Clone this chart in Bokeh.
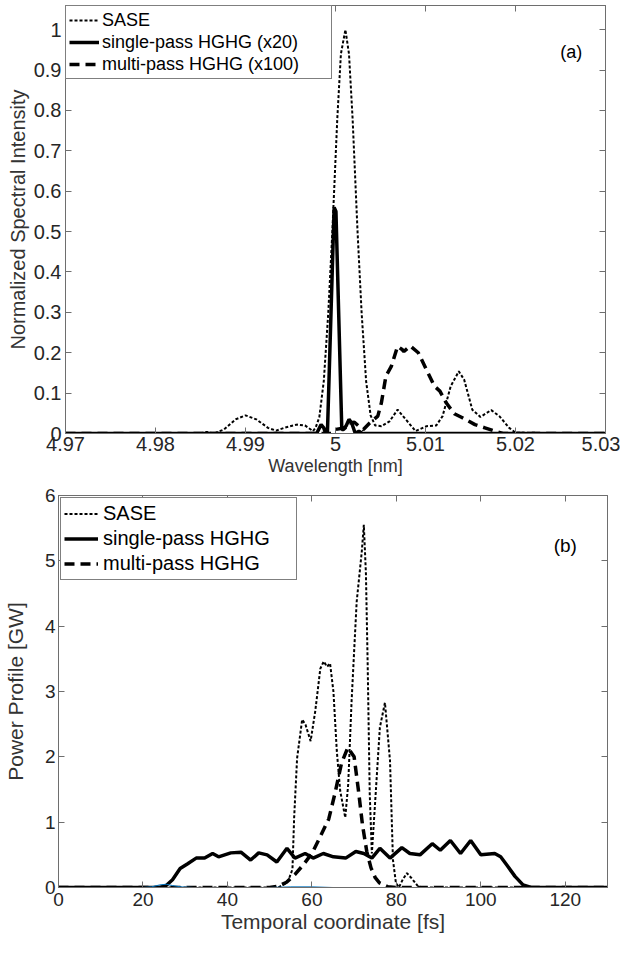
from bokeh.plotting import figure
from bokeh.models import (Range1d, LinearAxis, FixedTicker, Legend, LegendItem,
                          Label, CustomJSTickFormatter)
from bokeh.embed import file_html
from bokeh.resources import INLINE

FONT = "Liberation Sans"
AX = "#6e6e6e"
TXT = "#262626"

# ---------------- panel (a): spectra ----------------
sase_a_x = [4.970, 4.9850, 4.9857, 4.9865, 4.9876, 4.9889, 4.9900, 4.9912, 4.9925, 4.9934,
            4.9943, 4.9957, 4.9966, 4.9975, 4.9978, 4.9982, 4.9987, 4.9992, 4.99965, 5.0002,
            5.0006, 5.0011, 5.0015, 5.0019, 5.00245, 5.0029, 5.0034, 5.0039, 5.0044, 5.0051,
            5.0060, 5.0069, 5.0078, 5.0089, 5.0101, 5.0112, 5.0119, 5.0128, 5.0137, 5.0143,
            5.0152, 5.0161, 5.0173, 5.0182, 5.0193, 5.0200, 5.030]
sase_a_y = [0, 0, 0.004, 0, 0.01, 0.035, 0.045, 0.035, 0.014, 0.007,
            0.014, 0.022, 0.02, 0.006, 0.015, 0.04, 0.13, 0.3, 0.5, 0.78,
            0.94, 1.0, 0.94, 0.78, 0.5, 0.3, 0.13, 0.045, 0.02, 0.018,
            0.03, 0.059, 0.035, 0.006, 0.018, 0.02, 0.043, 0.117, 0.154, 0.133,
            0.059, 0.041, 0.058, 0.043, 0.014, 0.002, 0]

hg1_a_x = [4.970, 4.9979, 4.9984, 4.9987, 4.9989, 4.9991, 4.99985, 5.00005, 5.0007,
           5.0009, 5.0012, 5.0015, 5.0018, 5.0022, 5.0026, 5.0030, 5.030]
hg1_a_y = [0, 0, 0.022, 0.014, 0, 0, 0.56, 0.55, 0.01,
           0.01, 0.02, 0.035, 0.026, 0, 0.006, 0, 0]

hgm_a_x = [4.970, 4.9995, 5.0000, 5.0011, 5.0015, 5.0021, 5.0026, 5.0031, 5.0038, 5.0047,
           5.0051, 5.0056, 5.0062, 5.0069, 5.0074, 5.0076, 5.0083, 5.0092, 5.0101, 5.0110,
           5.0116, 5.0123, 5.0132, 5.0141, 5.0155, 5.0166, 5.0177, 5.0186, 5.030]
hgm_a_y = [0, 0, 0.01, 0.014, 0.026, 0.028, 0.018, 0.01, 0.026, 0.043,
           0.076, 0.142, 0.166, 0.216, 0.208, 0.203, 0.217, 0.2, 0.158, 0.117,
           0.105, 0.076, 0.049, 0.039, 0.022, 0.014, 0.006, 0, 0]

xt_a = [4.97, 4.98, 4.99, 5.0, 5.01, 5.02, 5.03]
xl_a = ["4.97", "4.98", "4.99", "5", "5.01", "5.02", "5.03"]
yt_a = [0, 0.1, 0.2, 0.3, 0.4, 0.5, 0.6, 0.7, 0.8, 0.9, 1.0]
yl_a = ["0", "0.1", "0.2", "0.3", "0.4", "0.5", "0.6", "0.7", "0.8", "0.9", "1"]
legend_a = ["SASE", "single-pass HGHG (x20)", "multi-pass HGHG (x100)"]

# ---------------- panel (b): power profiles ----------------
sase_b_t = [0, 52, 53.5, 54.5, 55.4, 55.8, 56.5, 57.7, 58.5, 59.7,
            60.8, 62.0, 62.8, 63.6, 64.3, 65.1, 65.9, 66.7, 67.9, 68.6,
            69.4, 70.6, 71.8, 72.3, 72.8, 73.2, 73.7, 74.2, 75.1, 76.1,
            77.3, 78.5, 79.2, 79.9, 80.6, 81.5, 82.5, 83.5, 85, 86, 130]
sase_b_p = [0, 0, 0.05, 0.12, 0.28, 1.07, 1.98, 2.57, 2.49, 2.24,
            2.70, 3.35, 3.46, 3.38, 3.43, 3.0, 2.09, 1.48, 1.07, 1.58,
            2.85, 4.37, 5.13, 5.55, 4.8, 3.46, 1.43, 0.52, 1.43, 2.45,
            2.83, 1.94, 0.42, 0.07, 0.0, 0.12, 0.22, 0.15, 0.03, 0, 0]

hg1_b_t = [0, 24, 25.5, 27, 28.8, 30.5, 32.6, 34.6, 36.5, 37.9,
           40.8, 43.2, 45.5, 47.4, 49.4, 51.7, 54.1, 56.0, 58.4, 60.3,
           62.7, 65.1, 68.0, 70.4, 72.3, 74.2, 76.1, 78.5, 81.3, 83.2,
           85.6, 88.5, 90.4, 92.8, 95.2, 97.6, 100.0, 103.3, 104.7, 106.2,
           108.1, 110.0, 111.9, 130]
hg1_b_p = [0, 0, 0.03, 0.12, 0.29, 0.36, 0.45, 0.45, 0.52, 0.47,
           0.53, 0.54, 0.42, 0.53, 0.5, 0.39, 0.6, 0.45, 0.52, 0.45,
           0.52, 0.47, 0.45, 0.55, 0.52, 0.45, 0.6, 0.45, 0.61, 0.52,
           0.5, 0.67, 0.57, 0.72, 0.52, 0.72, 0.5, 0.52, 0.47, 0.34,
           0.17, 0.04, 0, 0]

hgm_b_t = [0, 50, 52, 54, 56, 58, 60, 62, 64, 65.5, 67, 68.5, 70, 71, 72, 73,
           74, 75, 76, 78, 80, 130]
hgm_b_p = [0, 0, 0.02, 0.08, 0.2, 0.35, 0.52, 0.78, 1.05, 1.45, 1.9, 2.14, 2.0, 1.5, 0.95, 0.55,
           0.3, 0.15, 0.07, 0.01, 0, 0]

blue_b_t = [0, 20, 22, 24, 25.5, 27, 29, 32, 50, 55, 60, 65, 85]
blue_b_p = [0, 0, 0.01, 0.04, 0.05, 0.03, 0.01, 0, 0, 0.01, 0.01, 0, 0]

xt_b = [0, 20, 40, 60, 80, 100, 120]
yt_b = [0, 1, 2, 3, 4, 5, 6]
legend_b = ["SASE", "single-pass HGHG", "multi-pass HGHG"]


def style(p, xt, yt, xl=None, yl=None, tick_size="20px"):
    p.outline_line_color = AX
    p.outline_line_width = 1
    p.grid.visible = False
    p.background_fill_color = "white"
    p.border_fill_color = "white"
    xb, yb = p.below[0], p.left[0]
    for ax, ticks, labels in ((xb, xt, xl), (yb, yt, yl)):
        ax.ticker = FixedTicker(ticks=ticks)
        if labels is not None:
            ax.major_label_overrides = dict(zip(ticks, labels))
        ax.major_tick_in = 6
        ax.major_tick_out = 0
        ax.minor_tick_line_color = None
        ax.axis_line_color = AX
        ax.major_tick_line_color = AX
        ax.major_label_text_font = FONT
        ax.major_label_text_font_size = tick_size
        ax.major_label_text_color = TXT
        ax.axis_label_text_font = FONT
        ax.axis_label_text_font_style = "normal"
        ax.axis_label_text_color = "#333333"
    for loc, ticks in (("above", xt), ("right", yt)):
        a = LinearAxis(ticker=FixedTicker(ticks=ticks),
                       formatter=CustomJSTickFormatter(code="return ''"),
                       major_tick_in=6, major_tick_out=0,
                       minor_tick_line_color=None, axis_line_color=AX,
                       major_tick_line_color=AX, major_label_standoff=0,
                       major_label_text_font_size="1px")
        p.add_layout(a, loc)
    return xb, yb


# ---------------- figure (a) ----------------
pa = figure(width=620, height=482, output_backend="svg", toolbar_location=None,
            x_range=Range1d(4.97, 5.03), y_range=Range1d(0, 1.06),
            min_border_left=65, min_border_right=15, min_border_top=5, min_border_bottom=49)
xa, ya = style(pa, xt_a, yt_a, xl_a, yl_a, tick_size="20px")
xa.axis_label = "Wavelength [nm]"
xa.axis_label_text_font_size = "18px"
xa.major_label_standoff = 3
xa.axis_label_standoff = 2
ya.axis_label = "Normalized Spectral Intensity"
ya.axis_label_text_font_size = "20px"
ya.major_label_standoff = 4
ya.axis_label_standoff = 2

ra1 = pa.line(sase_a_x, sase_a_y, line_color="black", line_width=2, line_dash="3 2")
ra2 = pa.line(hg1_a_x, hg1_a_y, line_color="black", line_width=3.5)
ra3 = pa.line(hgm_a_x, hgm_a_y, line_color="black", line_width=3.5, line_dash="10 6")
leg_a = Legend(items=[LegendItem(label=legend_a[0], renderers=[ra1]),
                      LegendItem(label=legend_a[1], renderers=[ra2]),
                      LegendItem(label=legend_a[2], renderers=[ra3])],
               location="top_left", margin=0, padding=3, spacing=0,
               label_height=22, glyph_height=22, glyph_width=30, label_standoff=3,
               label_width=226, label_text_font=FONT, label_text_font_size="18px",
               label_text_color="black", border_line_color="black", border_line_width=1,
               background_fill_color="white", background_fill_alpha=1)
pa.add_layout(leg_a)
pa.add_layout(Label(x=5.0262, y=0.945, text="(a)", text_font=FONT, text_font_size="18px",
                    text_color="black", text_align="center", text_baseline="middle"))

# ---------------- figure (b) ----------------
pb = figure(width=620, height=458, output_backend="svg", toolbar_location=None,
            x_range=Range1d(0, 130), y_range=Range1d(0, 6),
            min_border_left=55, min_border_right=13, min_border_top=13, min_border_bottom=53)
xb, yb = style(pb, xt_b, yt_b, tick_size="19px")
xb.axis_label = "Temporal coordinate [fs]"
xb.axis_label_text_font_size = "21px"
xb.major_label_standoff = 5
xb.axis_label_standoff = 1
yb.axis_label = "Power Profile [GW]"
yb.axis_label_text_font_size = "21px"
yb.major_label_standoff = 3
yb.axis_label_standoff = 15

rb1 = pb.line(sase_b_t, sase_b_p, line_color="black", line_width=2, line_dash="3 2")
rb2 = pb.line(hg1_b_t, hg1_b_p, line_color="black", line_width=3.5)
rb3 = pb.line(hgm_b_t, hgm_b_p, line_color="black", line_width=3.5, line_dash="10 6")
pb.line(blue_b_t, blue_b_p, line_color="#0072BD", line_width=1)
leg_b = Legend(items=[LegendItem(label=legend_b[0], renderers=[rb1]),
                      LegendItem(label=legend_b[1], renderers=[rb2]),
                      LegendItem(label=legend_b[2], renderers=[rb3])],
               location="top_left", margin=2, padding=3, spacing=0,
               label_height=25, glyph_height=25, glyph_width=34, label_standoff=5,
               label_width=190, label_text_font=FONT, label_text_font_size="20px",
               label_text_color="black", border_line_color="black", border_line_width=1,
               background_fill_color="white", background_fill_alpha=1)
pb.add_layout(leg_b)
pb.add_layout(Label(x=120, y=5.23, text="(b)", text_font=FONT, text_font_size="19px",
                    text_color="black", text_align="center", text_baseline="middle"))

# two independent roots, stacked, so each keeps its own frame position
open("out.html", "w").write(file_html([pa, pb], INLINE))
